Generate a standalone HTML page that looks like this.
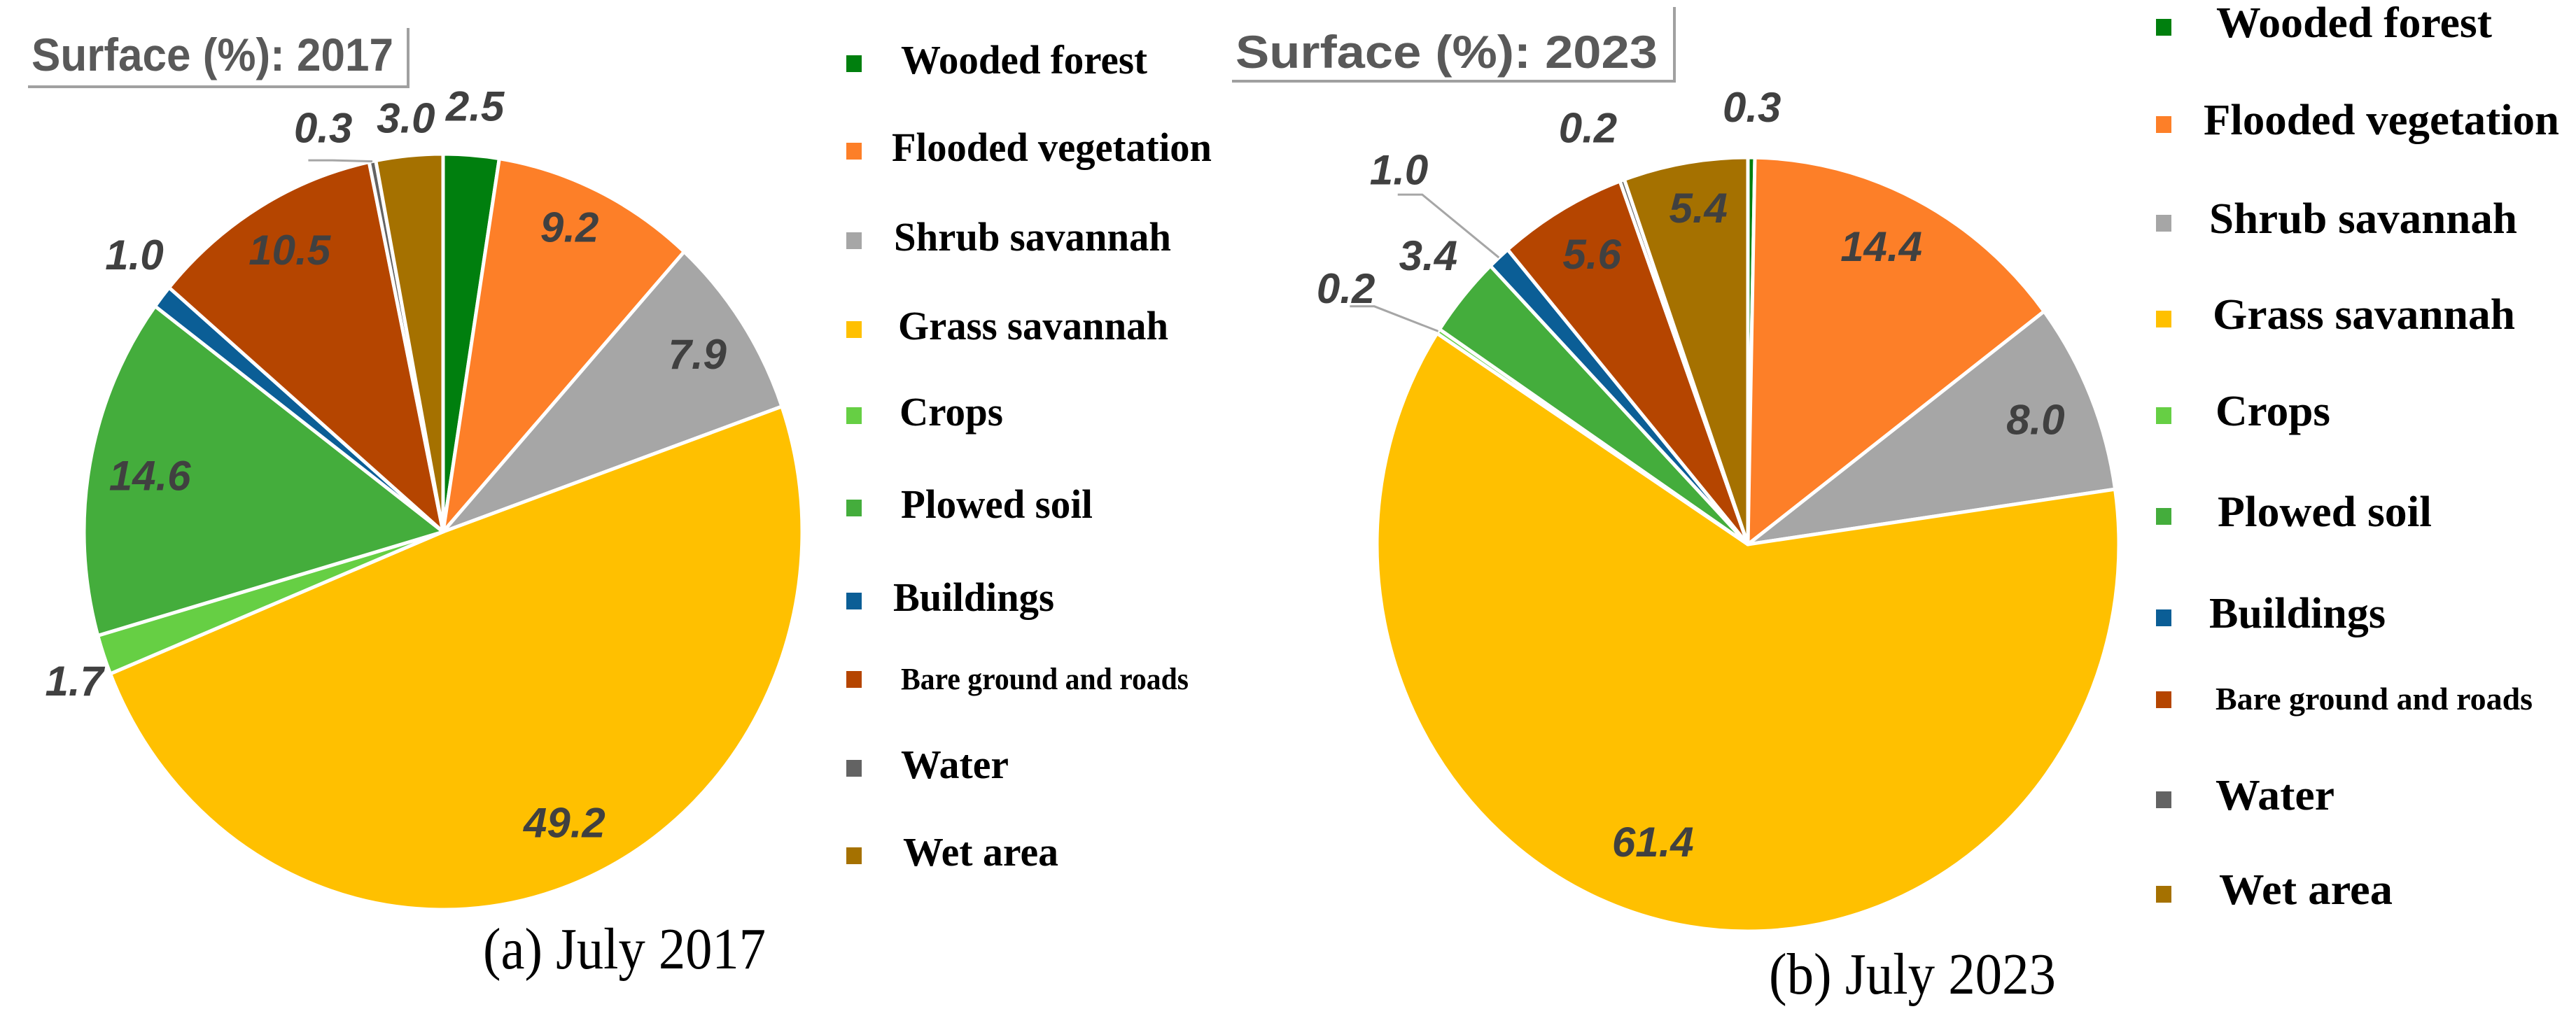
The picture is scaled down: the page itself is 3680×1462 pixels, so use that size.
<!DOCTYPE html>
<html><head><meta charset="utf-8">
<style>
html,body{margin:0;padding:0;background:#fff;}
svg{display:block;}
.lbl{font-family:"Liberation Sans",sans-serif;font-weight:bold;font-style:italic;fill:#404040;font-size:60px;}
.leg{font-family:"Liberation Serif",serif;font-weight:bold;fill:#000;}
.ttl{font-family:"Liberation Sans",sans-serif;font-weight:bold;fill:#595959;font-size:66px;}
.cap{font-family:"Liberation Serif",serif;fill:#000;font-size:84px;}
</style></head>
<body>
<svg id="chart" width="3680" height="1462" viewBox="0 0 3680 1462">
  <rect x="0" y="0" width="3680" height="1462" fill="#fff"/>
  <g>
    <text class="ttl" x="45" y="101" textLength="517" lengthAdjust="spacingAndGlyphs">Surface (%): 2017</text>
    <polyline points="583,40 583,124 40,124" fill="none" stroke="#a0a0a0" stroke-width="4"/>
  </g>
  <g>
    <text class="ttl" x="1765" y="97" textLength="603" lengthAdjust="spacingAndGlyphs">Surface (%): 2023</text>
    <polyline points="2392,10 2392,116 1760,116" fill="none" stroke="#a0a0a0" stroke-width="4"/>
  </g>
  <text class="cap" x="690" y="1384" textLength="404" lengthAdjust="spacingAndGlyphs">(a) July 2017</text>
  <text class="cap" x="2527" y="1420" textLength="410" lengthAdjust="spacingAndGlyphs">(b) July 2023</text>
  <g id="pieA"></g>
  <g id="pieB"></g>
  <g id="legA"></g>
  <g id="legB"></g>
</svg>
<script>
const categories = ["Wooded forest","Flooded vegetation","Shrub savannah","Grass savannah","Crops","Plowed soil","Buildings","Bare ground and roads","Water","Wet area"];
const values2017 = [2.5, 9.2, 7.9, 49.2, 1.7, 14.6, 1.0, 10.5, 0.3, 3.0];
const values2023 = [0.3, 14.4, 8.0, 61.4, 0.2, 3.4, 1.0, 5.6, 0.2, 5.4];
const labels2017 = ["2.5","9.2","7.9","49.2","1.7","14.6","1.0","10.5","0.3","3.0"];
const labels2023 = ["0.3","14.4","8.0","61.4","0.2","3.4","1.0","5.6","0.2","5.4"];

const colors = ["#007f0e","#fd7f28","#a6a6a6","#ffc000","#66cf44","#44ad3c","#0b5e96","#b54500","#636363","#a57100"];
const NS = "http://www.w3.org/2000/svg";
function mk(tag, attrs, parent){const e=document.createElementNS(NS,tag);for(const k in attrs)e.setAttribute(k,attrs[k]);parent.appendChild(e);return e;}

function drawPie(g, values, labels, cx, cy, rx, ry, labR, labDA, leaders, key){
  const total = values.reduce((a,b)=>a+b,0);
  const pt=(deg,f)=>{const a=(deg-90)*Math.PI/180;return [cx+rx*f*Math.cos(a), cy+ry*f*Math.sin(a)];};
  let cum=0;
  values.forEach((v,i)=>{
    const a0=cum/total*360, a1=(cum+v)/total*360; cum+=v;
    const p0=pt(a0,1), p1=pt(a1,1);
    const large=(a1-a0)>180?1:0;
    const p=mk("path",{d:`M${cx},${cy} L${p0[0]},${p0[1]} A${rx},${ry} 0 ${large} 1 ${p1[0]},${p1[1]} Z`,fill:colors[i],stroke:"#fff","stroke-width":5,"stroke-linejoin":"round"},g);
    
    
    const mid=(a0+a1)/2;
    const lp=pt(mid+labDA[i],labR[i]);
    if(leaders[i]){
      const e=pt(mid,1.0), m=pt(mid+labDA[i],labR[i]-0.09);
      const l=mk("polyline",{points:`${e[0]},${e[1]} ${m[0]},${m[1]} ${m[0]-35},${m[1]}`,fill:"none",stroke:"#a6a6a6","stroke-width":3},g);
      
      
    }
    const t=mk("text",{class:"lbl",x:lp[0],y:lp[1]+21,"text-anchor":"middle"},g);
    t.textContent=labels[i];
    
    
  });
}
drawPie(document.getElementById("pieA"), values2017, labels2017, 633, 760, 513, 540,
  [1.13,0.88,0.85,0.84,1.1,0.83,1.13,0.86,1.12,1.1],[0,-2,0,-3,-2,0,2,1,-6,0],
  [0,0,0,0,0,0,0,0,1,0],"2017");
drawPie(document.getElementById("pieB"), values2023, labels2023, 2497, 778, 530, 553,
  [1.13,0.85,0.84,0.81,1.27,1.14,1.35,0.86,1.16,0.88],[0,-2,0,6,-2,1,-2,1,-2,1],
  [0,0,0,0,1,0,1,0,0,0],"2023");

function drawLegend(g, sx, tx, ys, sizes, widths, key){
  categories.forEach((c,i)=>{
    const r=mk("rect",{x:sx,y:ys[i]-26,width:22,height:24,fill:colors[i]},g);
    
    
    const t=mk("text",{class:"leg",x:tx[i],y:ys[i],"font-size":sizes[i],textLength:widths[i],lengthAdjust:"spacingAndGlyphs"},g);
    t.textContent=c;
    
    
  });
}
drawLegend(document.getElementById("legA"), 1209,
  [1287,1274,1277,1283,1285,1287,1276,1287,1287,1290],
  [105,230,358,485,608,740,873,985,1112,1237],
  [58,58,58,58,58,58,58,44,58,58],
  [352,457,396,386,148,274,230,411,154,222],"2017");
drawLegend(document.getElementById("legB"), 3080,
  [3166,3148,3156,3161,3165,3168,3156,3165,3165,3170],
  [53,192,333,470,608,752,897,1014,1157,1292],
  [62,62,62,62,62,62,62,46,62,62],
  [394,508,440,432,164,306,252,453,170,248],"2023");
</script>
</body></html>
